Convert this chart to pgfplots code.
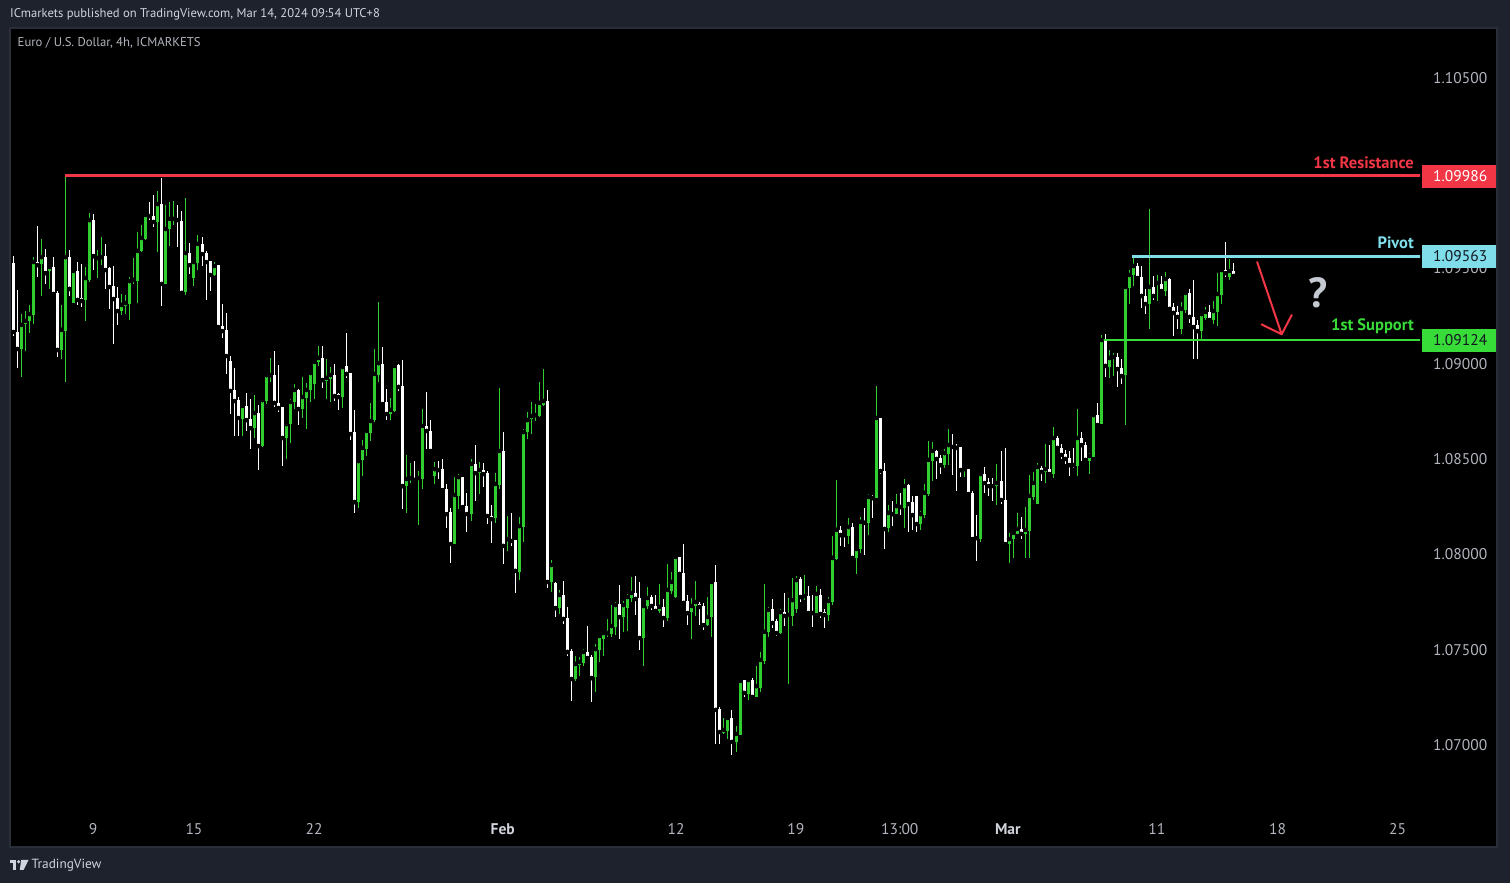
\documentclass[border=0pt]{standalone}
\usepackage{fontspec}
\setmainfont{PT Sans}
\usepackage{pgfplots}
\usepackage{pgfplotstable}
\pgfplotsset{compat=1.18}
\definecolor{bgc}{HTML}{1E222D}
\definecolor{panebd}{HTML}{2A2E39}
\definecolor{ticktx}{HTML}{B2B5BE}
\definecolor{headtx}{HTML}{D1D4DC}
\definecolor{cgreen}{HTML}{2FCF2F}
\definecolor{lgreen}{HTML}{38DC38}
\definecolor{cred}{HTML}{F23645}
\definecolor{cblue}{HTML}{80DEEA}
\definecolor{darktx}{HTML}{131722}
\definecolor{qcol}{HTML}{C5C9D1}

\pgfplotstableread{
i o h l c
1 1.09528 1.09565 1.09145 1.09166
2 1.09166 1.09386 1.08977 1.09077
3 1.09077 1.09260 1.08930 1.09203
4 1.09208 1.09276 1.09066 1.09224
5 1.09224 1.09308 1.09161 1.09260
6 1.09255 1.09559 1.09208 1.09533
7 1.09533 1.09722 1.09454 1.09517
8 1.09523 1.09654 1.09355 1.09559
9 1.09559 1.09601 1.09418 1.09475
10 1.09486 1.09517 1.09391 1.09507
11 1.09507 1.09559 1.09365 1.09365
12 1.09371 1.09381 1.09035 1.09072
13 1.09072 1.09308 1.09024 1.09177
14 1.09171 1.09984 1.08904 1.09559
15 1.09559 1.09596 1.09355 1.09392
16 1.09318 1.09491 1.09318 1.09486
17 1.09486 1.09533 1.09308 1.09334
18 1.09344 1.09523 1.09297 1.09329
19 1.09334 1.09507 1.09224 1.09449
20 1.09439 1.09790 1.09428 1.09753
21 1.09753 1.09785 1.09491 1.09564
22 1.09544 1.09596 1.09449 1.09554
23 1.09549 1.09664 1.09517 1.09559
24 1.09565 1.09628 1.09392 1.09491
25 1.09502 1.09507 1.09287 1.09402
26 1.09407 1.09512 1.09103 1.09339
27 1.09344 1.09402 1.09203 1.09276
28 1.09276 1.09365 1.09255 1.09308
29 1.09302 1.09360 1.09260 1.09318
30 1.09313 1.09454 1.09229 1.09433
31 1.09433 1.09554 1.09418 1.09439
32 1.09433 1.09690 1.09318 1.09591
33 1.09591 1.09727 1.09585 1.09659
34 1.09654 1.09790 1.09648 1.09780
35 1.09780 1.09848 1.09753 1.09774
36 1.09774 1.09884 1.09717 1.09743
37 1.09743 1.09905 1.09585 1.09837
38 1.09837 1.09974 1.09302 1.09418
39 1.09418 1.09832 1.09418 1.09706
40 1.09706 1.09848 1.09617 1.09759
41 1.09753 1.09853 1.09727 1.09759
42 1.09759 1.09832 1.09612 1.09753
43 1.09748 1.09801 1.09371 1.09371
44 1.09376 1.09869 1.09360 1.09580
45 1.09580 1.09633 1.09470 1.09517
46 1.09449 1.09538 1.09407 1.09533
47 1.09528 1.09675 1.09491 1.09628
48 1.09628 1.09664 1.09512 1.09575
49 1.09580 1.09591 1.09334 1.09533
50 1.09538 1.09538 1.09381 1.09465
51 1.09465 1.09533 1.09460 1.09512
52 1.09517 1.09517 1.09192 1.09192
53 1.09197 1.09313 1.09134 1.09171
54 1.09177 1.09266 1.08946 1.09040
55 1.09014 1.09040 1.08736 1.08857
56 1.08862 1.08977 1.08620 1.08804
57 1.08809 1.08825 1.08620 1.08715
58 1.08710 1.08788 1.08620 1.08778
59 1.08778 1.08846 1.08647 1.08704
60 1.08710 1.08815 1.08552 1.08662
61 1.08662 1.08836 1.08610 1.08741
62 1.08741 1.08783 1.08442 1.08568
63 1.08568 1.08820 1.08563 1.08809
64 1.08804 1.08940 1.08788 1.08940
65 1.08935 1.09030 1.08904 1.08940
66 1.08940 1.09066 1.08773 1.08794
67 1.08794 1.08993 1.08746 1.08767
68 1.08773 1.08773 1.08463 1.08610
69 1.08610 1.08689 1.08500 1.08683
70 1.08683 1.08815 1.08584 1.08799
71 1.08799 1.08893 1.08762 1.08862
72 1.08862 1.08867 1.08678 1.08762
73 1.08762 1.08930 1.08715 1.08825
74 1.08820 1.08898 1.08657 1.08862
75 1.08862 1.08961 1.08799 1.08951
76 1.08893 1.09014 1.08815 1.09009
77 1.09009 1.09093 1.08988 1.09030
78 1.09030 1.09093 1.08872 1.08914
79 1.08909 1.09024 1.08815 1.08925
80 1.08919 1.08982 1.08799 1.08940
81 1.08940 1.08998 1.08804 1.08830
82 1.08841 1.08846 1.08757 1.08825
83 1.08825 1.08988 1.08767 1.08982
84 1.08988 1.09161 1.08925 1.08946
85 1.08951 1.08951 1.08600 1.08631
86 1.08641 1.08757 1.08217 1.08274
87 1.08274 1.08500 1.08243 1.08489
88 1.08495 1.08600 1.08411 1.08558
89 1.08552 1.08657 1.08516 1.08647
90 1.08636 1.08794 1.08594 1.08699
91 1.08704 1.09077 1.08694 1.08946
92 1.08940 1.09323 1.08904 1.09003
93 1.08998 1.09087 1.08788 1.08788
94 1.08799 1.08867 1.08704 1.08736
95 1.08736 1.08820 1.08704 1.08757
96 1.08752 1.08993 1.08746 1.08988
97 1.08993 1.08998 1.08857 1.08878
98 1.08883 1.09019 1.08238 1.08358
99 1.08358 1.08521 1.08217 1.08395
100 1.08395 1.08479 1.08374 1.08400
101 1.08395 1.08489 1.08379 1.08390
102 1.08390 1.08437 1.08154 1.08400
103 1.08395 1.08762 1.08343 1.08673
104 1.08673 1.08851 1.08552 1.08647
105 1.08647 1.08704 1.08537 1.08542
106 1.08411 1.08484 1.08369 1.08447
107 1.08447 1.08489 1.08395 1.08442
108 1.08447 1.08500 1.08332 1.08337
109 1.08343 1.08369 1.08138 1.08211
110 1.08222 1.08243 1.07955 1.08054
111 1.08054 1.08405 1.08054 1.08311
112 1.08306 1.08421 1.08238 1.08405
113 1.08405 1.08405 1.08243 1.08248
114 1.08253 1.08322 1.08117 1.08211
115 1.08211 1.08500 1.08175 1.08474
116 1.08474 1.08573 1.08280 1.08426
117 1.08426 1.08484 1.08316 1.08442
118 1.08442 1.08479 1.08353 1.08421
119 1.08426 1.08437 1.08159 1.08201
120 1.08201 1.08259 1.08059 1.08185
121 1.08190 1.08426 1.08164 1.08369
122 1.08364 1.08872 1.08343 1.08542
123 1.08542 1.08641 1.07949 1.08044
124 1.08070 1.08201 1.08017 1.08080
125 1.08080 1.08217 1.08044 1.08070
126 1.08075 1.08075 1.07797 1.07913
127 1.07907 1.08196 1.07865 1.08148
128 1.08143 1.08657 1.08065 1.08641
129 1.08641 1.08746 1.08605 1.08704
130 1.08710 1.08799 1.08631 1.08725
131 1.08725 1.08788 1.08699 1.08730
132 1.08725 1.08904 1.08720 1.08794
133 1.08783 1.08972 1.08778 1.08804
134 1.08804 1.08862 1.07823 1.07855
135 1.07855 1.07970 1.07802 1.07944
136 1.07850 1.07855 1.07671 1.07718
137 1.07718 1.07813 1.07687 1.07787
138 1.07787 1.07860 1.07634 1.07661
139 1.07666 1.07724 1.07467 1.07488
140 1.07493 1.07503 1.07231 1.07346
141 1.07346 1.07467 1.07336 1.07425
142 1.07420 1.07461 1.07362 1.07435
143 1.07430 1.07503 1.07414 1.07488
144 1.07488 1.07624 1.07451 1.07456
145 1.07461 1.07472 1.07225 1.07351
146 1.07357 1.07530 1.07278 1.07503
147 1.07498 1.07577 1.07435 1.07572
148 1.07556 1.07593 1.07467 1.07587
149 1.07582 1.07661 1.07566 1.07587
150 1.07582 1.07734 1.07566 1.07624
151 1.07619 1.07750 1.07577 1.07734
152 1.07739 1.07839 1.07556 1.07671
153 1.07671 1.07755 1.07593 1.07734
154 1.07718 1.07792 1.07598 1.07776
155 1.07771 1.07881 1.07750 1.07797
156 1.07797 1.07886 1.07682 1.07766
157 1.07771 1.07855 1.07498 1.07561
158 1.07561 1.07739 1.07414 1.07729
159 1.07729 1.07829 1.07713 1.07771
160 1.07776 1.07787 1.07708 1.07729
161 1.07729 1.07787 1.07692 1.07703
162 1.07703 1.07844 1.07692 1.07724
163 1.07724 1.07766 1.07619 1.07666
164 1.07666 1.07949 1.07650 1.07813
165 1.07808 1.07907 1.07792 1.07855
166 1.07776 1.07996 1.07771 1.07986
167 1.07986 1.07986 1.07892 1.07897
168 1.07902 1.08054 1.07745 1.07745
169 1.07755 1.07787 1.07629 1.07692
170 1.07697 1.07771 1.07556 1.07729
171 1.07729 1.07860 1.07677 1.07750
172 1.07739 1.07750 1.07629 1.07724
173 1.07729 1.07745 1.07603 1.07629
174 1.07629 1.07776 1.07624 1.07671
175 1.07671 1.07865 1.07566 1.07855
176 1.07855 1.07944 1.07005 1.07184
177 1.07189 1.07199 1.07005 1.07068
178 1.07063 1.07142 1.07058 1.07079
179 1.07073 1.07142 1.07031 1.07142
180 1.07142 1.07184 1.06947 1.07016
181 1.07016 1.07100 1.06963 1.07058
182 1.07052 1.07341 1.07052 1.07336
183 1.07341 1.07341 1.07252 1.07273
184 1.07267 1.07351 1.07236 1.07341
185 1.07341 1.07351 1.07246 1.07252
186 1.07252 1.07414 1.07252 1.07309
187 1.07299 1.07488 1.07278 1.07446
188 1.07441 1.07844 1.07425 1.07593
189 1.07593 1.07724 1.07566 1.07708
190 1.07713 1.07766 1.07614 1.07640
191 1.07650 1.07661 1.07572 1.07587
192 1.07587 1.07713 1.07582 1.07697
193 1.07697 1.07797 1.07624 1.07677
194 1.07677 1.07771 1.07320 1.07682
195 1.07677 1.07876 1.07624 1.07760
196 1.07713 1.07886 1.07692 1.07865
197 1.07871 1.07881 1.07750 1.07776
198 1.07776 1.07892 1.07760 1.07781
199 1.07781 1.07834 1.07692 1.07692
200 1.07703 1.07787 1.07619 1.07692
201 1.07692 1.07834 1.07692 1.07792
202 1.07787 1.07818 1.07666 1.07687
203 1.07697 1.07713 1.07614 1.07682
204 1.07682 1.07776 1.07650 1.07755
205 1.07750 1.08096 1.07734 1.07981
206 1.07975 1.08390 1.07970 1.08128
207 1.08128 1.08148 1.08044 1.08101
208 1.08107 1.08112 1.08038 1.08101
209 1.08096 1.08190 1.08054 1.08143
210 1.08143 1.08164 1.07970 1.07981
211 1.07981 1.08033 1.07897 1.08028
212 1.08028 1.08196 1.08007 1.08170
213 1.08170 1.08243 1.07996 1.08165
214 1.08165 1.08316 1.08101 1.08301
215 1.08301 1.08311 1.08190 1.08295
216 1.08295 1.08883 1.08295 1.08715
217 1.08715 1.08715 1.08421 1.08437
218 1.08437 1.08479 1.08028 1.08133
219 1.08138 1.08259 1.08117 1.08217
220 1.08217 1.08280 1.08149 1.08211
221 1.08211 1.08316 1.08211 1.08253
222 1.08253 1.08322 1.08206 1.08248
223 1.08243 1.08395 1.08138 1.08358
224 1.08364 1.08369 1.08117 1.08264
225 1.08274 1.08306 1.08128 1.08206
226 1.08306 1.08306 1.08117 1.08159
227 1.08159 1.08227 1.08128 1.08211
228 1.08206 1.08369 1.08190 1.08322
229 1.08316 1.08594 1.08306 1.08495
230 1.08489 1.08589 1.08385 1.08542
231 1.08542 1.08547 1.08395 1.08500
232 1.08505 1.08521 1.08421 1.08468
233 1.08468 1.08552 1.08453 1.08531
234 1.08526 1.08657 1.08468 1.08573
235 1.08573 1.08631 1.08416 1.08563
236 1.08568 1.08579 1.08332 1.08558
237 1.08563 1.08563 1.08405 1.08442
238 1.08442 1.08458 1.08405 1.08447
239 1.08447 1.08447 1.08316 1.08316
240 1.08322 1.08332 1.08080 1.08080
241 1.08091 1.08206 1.07965 1.08085
242 1.08080 1.08421 1.08065 1.08421
243 1.08421 1.08458 1.08322 1.08374
244 1.08379 1.08400 1.08306 1.08358
245 1.08364 1.08400 1.08280 1.08358
246 1.08358 1.08474 1.08259 1.08374
247 1.08385 1.08542 1.08264 1.08285
248 1.08285 1.08558 1.08044 1.08054
249 1.08054 1.08112 1.07955 1.08080
250 1.08080 1.08122 1.07981 1.08112
251 1.08107 1.08217 1.08107 1.08133
252 1.08133 1.08196 1.08080 1.08107
253 1.08107 1.08248 1.07981 1.08128
254 1.08122 1.08416 1.07981 1.08306
255 1.08301 1.08432 1.08285 1.08374
256 1.08264 1.08479 1.08264 1.08458
257 1.08453 1.08463 1.08385 1.08432
258 1.08432 1.08579 1.08374 1.08447
259 1.08447 1.08573 1.08416 1.08421
260 1.08421 1.08668 1.08400 1.08610
261 1.08610 1.08620 1.08552 1.08558
262 1.08558 1.08579 1.08500 1.08521
263 1.08526 1.08547 1.08474 1.08500
264 1.08505 1.08542 1.08411 1.08468
265 1.08474 1.08558 1.08453 1.08468
266 1.08463 1.08762 1.08411 1.08610
267 1.08610 1.08641 1.08489 1.08573
268 1.08573 1.08589 1.08489 1.08495
269 1.08489 1.08531 1.08421 1.08516
270 1.08511 1.08741 1.08511 1.08730
271 1.08730 1.08794 1.08673 1.08678
272 1.08683 1.09150 1.08683 1.09124
273 1.09124 1.09155 1.08930 1.08988
274 1.08982 1.09072 1.08925 1.09030
275 1.09030 1.09056 1.08935 1.09035
276 1.09035 1.09056 1.08878 1.08972
277 1.08977 1.09024 1.08893 1.08935
278 1.08940 1.09402 1.08678 1.09402
279 1.09397 1.09491 1.09313 1.09465
280 1.09465 1.09559 1.09407 1.09512
281 1.09512 1.09528 1.09439 1.09449
282 1.09454 1.09512 1.09292 1.09355
283 1.09355 1.09392 1.09260 1.09313
284 1.09313 1.09811 1.09182 1.09402
285 1.09402 1.09460 1.09334 1.09355
286 1.09418 1.09465 1.09329 1.09423
287 1.09418 1.09460 1.09371 1.09381
288 1.09381 1.09481 1.09355 1.09444
289 1.09444 1.09449 1.09287 1.09287
290 1.09297 1.09318 1.09145 1.09266
291 1.09271 1.09302 1.09182 1.09245
292 1.09182 1.09323 1.09155 1.09287
293 1.09281 1.09381 1.09266 1.09371
294 1.09371 1.09392 1.09213 1.09245
295 1.09245 1.09439 1.09024 1.09192
296 1.09203 1.09229 1.09024 1.09171
297 1.09171 1.09271 1.09129 1.09260
298 1.09239 1.09297 1.09229 1.09271
299 1.09271 1.09308 1.09218 1.09229
300 1.09229 1.09329 1.09208 1.09276
301 1.09271 1.09475 1.09197 1.09365
302 1.09360 1.09496 1.09313 1.09491
303 1.09491 1.09638 1.09454 1.09475
304 1.09454 1.09549 1.09439 1.09486
305 1.09486 1.09528 1.09449 1.09460
}\candles

\pgfplotsset{
  wickstyle/.style={only marks, mark=none, forget plot,
    error bars/.cd, y dir=both, y explicit, error mark=none,
    error bar style={draw=#1, line width=1pt}},
  bodystyle/.style={only marks, mark=none, forget plot,
    error bars/.cd, y dir=both, y explicit, error mark=none,
    error bar style={draw=#1, line width=3pt}},
}

\begin{document}
\begin{tikzpicture}[x=1pt,y=1pt]
\useasboundingbox (0,0) rectangle (1510,883);
\fill[bgc] (0,0) rectangle (1510,883);
\fill[black] (10,36) rectangle (1497,855);
\draw[panebd, line width=1.5pt] (10,36) rectangle (1497,855);

\begin{axis}[
  at={(10pt,71pt)}, anchor=south west,
  scale only axis, width=1410pt, height=784pt,
  xmin=0.18, xmax=351.36, ymin=1.066486, ymax=1.107604,
  axis line style={draw=none}, tick style={draw=none},
  ytick={1.07,1.075,1.08,1.085,1.09,1.095,1.105},
  yticklabels={1.07000,1.07500,1.08000,1.08500,1.09000,1.09500,1.10500},
  yticklabel pos=right,
  yticklabel style={anchor=west, inner sep=0pt, xshift=13pt, text=ticktx,
    font=\fontsize{15.5}{16}\selectfont},
  xtick={20.85,46.0,75.9,122.9,166.1,195.9,221.8,248.7,285.8,315.9,345.8},
  xticklabels={9,15,22,\textbf{\color{headtx}Feb},12,19,13:00,\textbf{\color{headtx}Mar},11,18,25},
  xticklabel style={anchor=base, inner sep=0pt, yshift=-23pt, text=ticktx,
    font=\fontsize{15.5}{16}\selectfont},
]
% up candles
\addplot[restrict expr to domain={\thisrow{c}-\thisrow{o}}{0:1}, wickstyle=cgreen]
  table[x=i, y=c, y error plus expr={\thisrow{h}-\thisrow{c}}, y error minus expr={\thisrow{c}-\thisrow{l}}] {\candles};
\addplot[restrict expr to domain={\thisrow{c}-\thisrow{o}}{0:1}, bodystyle=cgreen]
  table[x=i, y=c, y error plus expr={0}, y error minus expr={max(\thisrow{c}-\thisrow{o},0.00004)}] {\candles};
% down candles
\addplot[restrict expr to domain={\thisrow{o}-\thisrow{c}}{0.000001:1}, wickstyle=white]
  table[x=i, y=c, y error plus expr={\thisrow{h}-\thisrow{c}}, y error minus expr={\thisrow{c}-\thisrow{l}}] {\candles};
\addplot[restrict expr to domain={\thisrow{o}-\thisrow{c}}{0.000001:1}, bodystyle=white]
  table[x=i, y=c, y error plus expr={max(\thisrow{o}-\thisrow{c},0.00004)}, y error minus expr={0}] {\candles};

% levels
\addplot[cred, line width=2.5pt, forget plot] coordinates {(13.9,1.09986) (352,1.09986)};
\addplot[cblue, line width=2.5pt, forget plot] coordinates {(279.6,1.09563) (352,1.09563)};
\addplot[lgreen, line width=2.5pt, forget plot] coordinates {(271.6,1.09124) (352,1.09124)};
% arrow
\addplot[cred, line width=2pt, line cap=round, forget plot] coordinates {(310.8,1.09533) (316.9,1.09154)};
\addplot[cred, line width=2pt, line cap=round, line join=round, forget plot] coordinates {(311.9,1.09206) (316.9,1.09154) (319.4,1.09255)};
\end{axis}

% level labels
\node[anchor=base east, inner sep=0pt, text=cred, font=\bfseries\fontsize{16.5}{17}\selectfont] at (1414,714.7) {1st Resistance};
\node[anchor=base east, inner sep=0pt, text=cblue, font=\bfseries\fontsize{16.5}{17}\selectfont] at (1414,634) {Pivot};
\node[anchor=base east, inner sep=0pt, text=lgreen, font=\bfseries\fontsize{16.5}{17}\selectfont] at (1414,552) {1st Support};

% price boxes
\fill[cred] (1422,695.3) rectangle (1496,718);
\node[anchor=west, inner sep=0pt, text=white, font=\fontsize{15.5}{16}\selectfont] at (1433,706.6) {1.09986};
\fill[cblue] (1422,615.3) rectangle (1496,638);
\node[anchor=west, inner sep=0pt, text=darktx, font=\fontsize{15.5}{16}\selectfont] at (1433,626.6) {1.09563};
\fill[lgreen] (1422,531.3) rectangle (1496,554);
\node[anchor=west, inner sep=0pt, text=darktx, font=\fontsize{15.5}{16}\selectfont] at (1433,542.6) {1.09124};

% question mark
\node[text=qcol, font=\bfseries\fontsize{42}{42}\selectfont, inner sep=0pt] at (1318,590) {?};

% header texts
\node[anchor=west, inner sep=0pt, text=headtx, font=\fontsize{12.6}{13}\selectfont] at (10,868.5) {ICmarkets published on TradingView.com, Mar 14, 2024 09:54 UTC+8};
\node[anchor=west, inner sep=0pt, text=ticktx, font=\fontsize{12.7}{13}\selectfont] at (17.5,840.5) {Euro / U.S. Dollar, 4h, ICMARKETS};

% footer logo
\fill[headtx] (9.5,23) rectangle (16,19.8);
\fill[headtx] (12.8,23) rectangle (16,13);
\fill[headtx] (18.6,21.2) circle (1.8);
\fill[headtx] (21.2,23) -- (28.5,23) -- (23.6,13) -- (19.8,13) -- cycle;
\node[anchor=west, inner sep=0pt, text=headtx, font=\fontsize{13.3}{14}\selectfont] at (31.5,17.5) {TradingView};
\end{tikzpicture}
\end{document}
